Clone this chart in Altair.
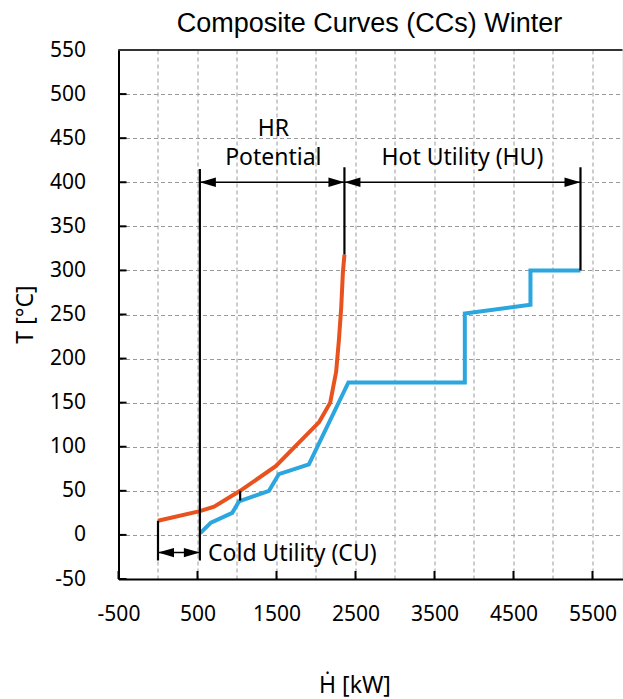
import altair as alt
import pandas as pd

# ---------------- data ----------------
hot_H = [0, 530, 710, 1040, 1490, 2040, 2180, 2255, 2290, 2320, 2340, 2360]
hot_T = [16, 27, 32, 50, 78, 128, 150, 185, 221, 259, 297, 318]

cold_H = [535, 670, 940, 1025, 1405, 1530, 1910, 2410, 3884, 3884, 4715, 4715, 5348]
cold_T = [2, 14, 25, 38, 50, 69, 80, 173, 173, 251, 261, 300, 300]

x_grid_values = [-500, 0, 500, 1000, 1500, 2000, 2500, 3000, 3500, 4000, 4500, 5000, 5500]
x_label_values = [-500, 500, 1500, 2500, 3500, 4500, 5500]
y_tick_values = [-50, 0, 50, 100, 150, 200, 250, 300, 350, 400, 450, 500, 550]

# vertical black marker lines
vline_H = [0, 530, 2360, 5348, 1040]
vline_T1 = [16, 415, 417, 417, 50]
vline_T2 = [-29, -29, 318, 300, 39]

# double arrows
arrow_T = [400, 400, -20]
arrow_from = [530, 2360, 0]
arrow_to = [2360, 5348, 530]

# annotations
center_labels = ["HR", "Potential", "Hot Utility (HU)"]
center_H = [1460, 1460, 3853]
center_T = [453, 420, 420]
left_labels = ["Cold Utility (CU)"]
left_H = [633]
left_T = [-30]

title_text = ["Composite Curves (CCs) Winter"]

ORANGE = "#E8521E"
BLUE = "#2BA6DE"
W, H = 504, 529
FONT = "Noto Sans"

# ---------------- tables ----------------
curves = pd.DataFrame({
    "H": hot_H + cold_H,
    "T": hot_T + cold_T,
    "series": ["Hot CC"] * len(hot_H) + ["Cold CC"] * len(cold_H),
    "i": list(range(len(hot_H))) + list(range(len(cold_H))),
})
vlines = pd.DataFrame({"H": vline_H, "T": vline_T1, "T2": vline_T2})
arrows = pd.DataFrame({"H": arrow_from, "H2": arrow_to, "T": arrow_T})
heads_right = pd.DataFrame({"H": arrow_to, "T": arrow_T})
heads_left = pd.DataFrame({"H": arrow_from, "T": arrow_T})
ctext = pd.DataFrame({"H": center_H, "T": center_T, "label": center_labels})
ltext = pd.DataFrame({"H": left_H, "T": left_T, "label": left_labels})
yticks = pd.DataFrame({"T": y_tick_values})
xticks = pd.DataFrame({"H": x_label_values})
ttl = pd.DataFrame({"label": title_text})

xs = alt.Scale(domain=[-500, 5880], nice=False, zero=False)
ys = alt.Scale(domain=[-50, 550], nice=False, zero=False)

x_axis = alt.Axis(
    values=x_grid_values,
    labelExpr="(datum.value + 500) % 1000 == 0 ? ('' + datum.value) : ''",
    ticks=False, grid=True, gridDash=[4, 3], gridColor="#9a9a9a", gridWidth=1,
    domainColor="black", domainWidth=2,
    labelFont=FONT, labelFontSize=21, labelColor="black", labelPadding=24,
    labelFlush=False, labelOverlap=False,
    title="Ḣ [kW]", titleFont=FONT, titleFontSize=23, titleFontWeight="normal",
    titleColor="black", titleX=236, titleY=113, titleBaseline="alphabetic",
    titleAlign="center",
)
y_axis = alt.Axis(
    values=y_tick_values,
    labelExpr="'' + datum.value",
    ticks=False, grid=True, gridDash=[4, 3], gridColor="#9a9a9a", gridWidth=1,
    domainColor="black", domainWidth=2,
    labelFont=FONT, labelFontSize=21, labelColor="black", labelPadding=33,
    labelFlush=False, labelOverlap=False,
    title="T [°C]", titleFont=FONT, titleFontSize=23, titleFontWeight="normal",
    titleColor="black", titleX=-86, titleY=264, titleBaseline="alphabetic",
    titleAlign="center", titleAngle=270,
)


def X(field="H"):
    return alt.X(f"{field}:Q", scale=xs, axis=x_axis)


def Y(field="T"):
    return alt.Y(f"{field}:Q", scale=ys, axis=y_axis)


lines = alt.Chart(curves).mark_line(strokeWidth=4).encode(
    x=X(), y=Y(),
    color=alt.Color("series:N", scale=alt.Scale(domain=["Hot CC", "Cold CC"], range=[ORANGE, BLUE]), legend=None),
    detail="series:N",
    order="i:Q",
)

vl = alt.Chart(vlines).mark_rule(color="black", strokeWidth=2.2).encode(
    x=X(), y=Y(), y2="T2:Q",
)

ar = alt.Chart(arrows).mark_rule(color="black", strokeWidth=1.5).encode(
    x=X(), x2="H2:Q", y=Y(),
)

hr = alt.Chart(heads_right).mark_point(
    shape="M0,0L-1,-0.29L-1,0.29Z", size=1024, filled=True, color="black", opacity=1, strokeWidth=0
).encode(x=X(), y=Y())

hl = alt.Chart(heads_left).mark_point(
    shape="M0,0L1,-0.29L1,0.29Z", size=1024, filled=True, color="black", opacity=1, strokeWidth=0
).encode(x=X(), y=Y())

tc = alt.Chart(ctext).mark_text(
    font=FONT, fontSize=23, color="black", align="center", baseline="alphabetic"
).encode(x=X(), y=Y(), text="label:N")

tl = alt.Chart(ltext).mark_text(
    font=FONT, fontSize=23, color="black", align="left", baseline="alphabetic"
).encode(x=X(), y=Y(), text="label:N")

ytk = alt.Chart(yticks).mark_rule(color="black", strokeWidth=2).encode(
    y=Y(), x=alt.value(0), x2=alt.value(8)
)
xtk = alt.Chart(xticks).mark_rule(color="black", strokeWidth=2).encode(
    x=X(), y=alt.value(H), y2=alt.value(H - 8)
)
top = alt.Chart(pd.DataFrame({"T": [550]})).mark_rule(color="#333333", strokeWidth=2).encode(
    y=Y(), x=alt.value(0), x2=alt.value(W)
)
title = alt.Chart(ttl).mark_text(
    font="Liberation Sans", fontSize=27, color="black", align="center", baseline="alphabetic"
).encode(x=alt.value(251), y=alt.value(-18), text="label:N")

chart = alt.layer(lines, vl, ar, hr, hl, tc, tl, ytk, xtk, top, title).properties(
    width=W, height=H,
    autosize=alt.AutoSizeParams(type="none"),
    padding={"left": 118.5, "top": 50, "right": 0, "bottom": 120},
).configure_view(stroke=None).configure(background="white")

chart.save("out.html", embed_options={"renderer": "svg", "actions": False})
